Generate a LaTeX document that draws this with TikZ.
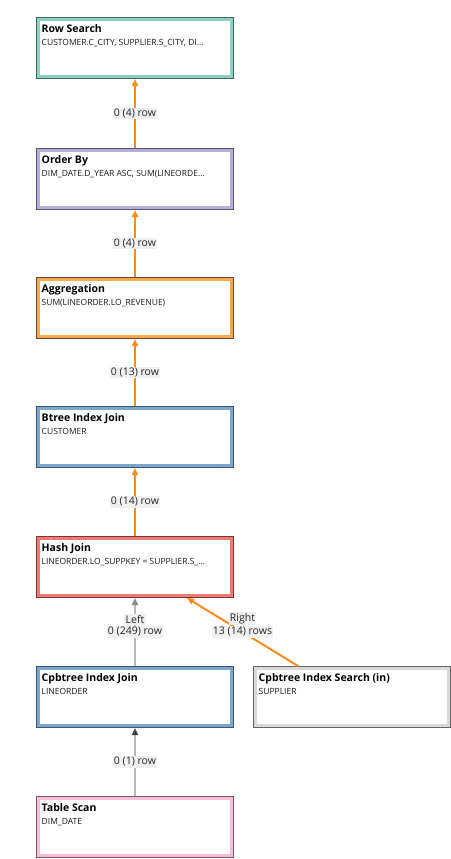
\documentclass[tikz,border=0pt]{standalone}
\usepackage{fontspec}
\setmainfont{Open Sans}
\usetikzlibrary{arrows.meta,positioning}
\definecolor{orangeE}{HTML}{FF8C1A}
\definecolor{grayE}{HTML}{B8B8B8}
\definecolor{grayH}{HTML}{8A8A8A}
\definecolor{lblbg}{HTML}{F0F0F0}
\tikzset{
  opbox/.style={draw=#1, line width=3pt, fill=white, minimum width=193pt, minimum height=57pt,
     inner sep=0pt, outer sep=2.5pt, anchor=north west},
  optitle/.style={anchor=base west, inner sep=0pt, font=\fontsize{10.5}{12}\selectfont\bfseries, text=black},
  opsub/.style={anchor=base west, inner sep=0pt, font=\fontsize{8.5}{10}\selectfont, text=black!90},
  elabel/.style={fill=lblbg, inner sep=1.2pt, font=\fontsize{10.5}{12}\selectfont, text=black!85},
  flowO/.style={draw=orangeE, line width=2pt, -{Triangle[length=7pt,width=6pt]}},
  flowG/.style={draw=grayE, line width=2pt, -{Triangle[length=7pt,width=6pt,color=grayH]}},
  flowD/.style={draw=grayE, line width=2pt, -{Triangle[length=7pt,width=6pt,color=black!75]}},
}
\newcommand\opnode[7]{%
  \node[opbox=#4] (#1) at (#2,#3) {};
  \draw[#5, line width=1.1pt] ([shift={(0.55pt,-0.55pt)}]#1.north west) rectangle ([shift={(-0.55pt,0.55pt)}]#1.south east);
  \node[optitle] (#1t) at ([shift={(5.5pt,-15.7pt)}]#1.north west) {#6};
  \node[opsub] (#1s) at ([shift={(5.5pt,-28.3pt)}]#1.north west) {#7};
}
\begin{document}
\begin{tikzpicture}[x=1pt,y=-1pt]
\useasboundingbox (0,0) rectangle (450,859);
\definecolor{bRS}{HTML}{8ED0C0}\definecolor{dRS}{HTML}{3F665F}
\definecolor{bOB}{HTML}{B9AEDA}\definecolor{dOB}{HTML}{585370}
\definecolor{bAG}{HTML}{F8A94C}\definecolor{dAG}{HTML}{6B4A2C}
\definecolor{bBT}{HTML}{7CA7CD}\definecolor{dBT}{HTML}{3B5570}
\definecolor{bHJ}{HTML}{EE7A70}\definecolor{dHJ}{HTML}{773835}
\definecolor{bIS}{HTML}{D8D8D8}\definecolor{dIS}{HTML}{666666}
\definecolor{bTS}{HTML}{F8BDD8}\definecolor{dTS}{HTML}{785868}

\opnode{rs}{36}{17}{bRS}{dRS}{Row Search}{CUSTOMER.C\_CITY, SUPPLIER.S\_CITY, DI...}
\opnode{ob}{36}{148}{bOB}{dOB}{Order By}{DIM\_DATE.D\_YEAR ASC, SUM(LINEORDE...}
\opnode{ag}{36}{277}{bAG}{dAG}{Aggregation}{SUM(LINEORDER.LO\_REVENUE)}
\opnode{bt}{36}{406}{bBT}{dBT}{Btree Index Join}{CUSTOMER}
\opnode{hj}{36}{536}{bHJ}{dHJ}{Hash Join}{LINEORDER.LO\_SUPPKEY = SUPPLIER.S\_...}
\opnode{cj}{36}{666}{bBT}{dBT}{Cpbtree Index Join}{LINEORDER}
\opnode{is}{253}{666}{bIS}{dIS}{Cpbtree Index Search (in)}{SUPPLIER}
\opnode{ts}{36}{796}{bTS}{dTS}{Table Scan}{DIM\_DATE}

\draw[flowO] (ob.north) -- node[elabel] (l1) {0 (4) row} (rs.south);
\draw[flowO] (ag.north) -- node[elabel] (l2) {0 (4) row} (ob.south);
\draw[flowO] (bt.north) -- node[elabel] (l3) {0 (13) row} (ag.south);
\draw[flowO] (hj.north) -- node[elabel] (l4) {0 (14) row} (bt.south);
\draw[flowG] (cj.north) -- node[elabel] (l5) {0 (249) row} (hj.south);
\node[elabel, above=0pt of l5] (l5a) {Left};
\draw[flowO] ([xshift=-54pt]is.north) -- node[elabel] (l6) {13 (14) rows} ([xshift=52pt]hj.south);
\node[elabel, above=0pt of l6] (l6a) {Right};
\draw[flowD] (ts.north) -- node[elabel] (l7) {0 (1) row} (cj.south);
\end{tikzpicture}
\end{document}
